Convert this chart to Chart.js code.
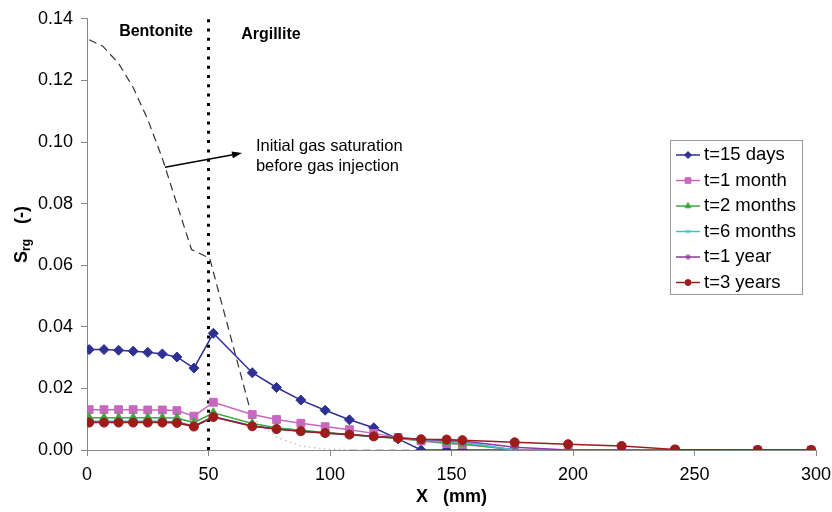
<!DOCTYPE html>
<html>
<head>
<meta charset="utf-8">
<script src="https://cdn.jsdelivr.net/npm/chart.js@4/dist/chart.umd.min.js"></script>
<style>
  body { margin: 0; background: #fff; }
  #wrap { width: 832px; height: 512px; }
</style>
</head>
<body>
<div id="wrap"><canvas id="srgChart" width="832" height="512"></canvas></div>
<script>
// distance from injection face (mm), shared by all time series
const xNodes = [0.9, 7, 13, 19, 25, 31, 37, 44, 52, 68, 78, 88, 98, 108, 118, 128, 137.5, 148, 154.5, 176, 198, 220, 242, 276, 298]

const days15 = [0.0326, 0.0326, 0.0324, 0.0321, 0.0317, 0.0312, 0.0302, 0.0266, 0.0379, 0.0251, 0.0203, 0.0162, 0.0129, 0.0098, 0.0072, 0.0036, 0, 0, 0, 0, 0, 0, 0, 0, 0]
const month1 = [0.0131, 0.0131, 0.0131, 0.0131, 0.0130, 0.0130, 0.0128, 0.0110, 0.0155, 0.0115, 0.0099, 0.0087, 0.0076, 0.0066, 0.0054, 0.0041, 0.0029, 0.0021, 0.0018, 0.0002, 0, 0, 0, 0, 0]
const months2 = [0.0105, 0.0105, 0.0105, 0.0105, 0.0105, 0.0105, 0.0104, 0.0089, 0.0121, 0.0086, 0.0072, 0.0064, 0.0057, 0.0050, 0.0044, 0.0037, 0.0030, 0.0024, 0.0021, 0, 0, 0, 0, 0, 0]
const months6 = [0.0093, 0.0093, 0.0093, 0.0093, 0.0093, 0.0093, 0.0092, 0.0078, 0.0109, 0.0079, 0.0069, 0.0062, 0.0055, 0.0049, 0.0044, 0.0038, 0.0032, 0.0028, 0.0026, 0, 0, 0, 0, 0, 0]
const year1 = [0.0091, 0.0091, 0.0091, 0.0091, 0.0091, 0.0091, 0.0090, 0.0077, 0.0108, 0.0078, 0.0068, 0.0061, 0.0055, 0.0050, 0.0045, 0.0040, 0.0035, 0.0031, 0.0029, 0.0009, 0, 0, 0, 0, 0]
const years3 = [0.0089, 0.0089, 0.0089, 0.0089, 0.0089, 0.0089, 0.0088, 0.0076, 0.0107, 0.0077, 0.0068, 0.0061, 0.0055, 0.0050, 0.0044, 0.0039, 0.0035, 0.0034, 0.0032, 0.0025, 0.0019, 0.0013, 0.0002, 0, 0]

// initial gas saturation before injection (dashed curve)
const initX = [0.9, 6.5, 13, 19, 25, 31, 37, 43, 50.5, 68, 78, 88, 98, 108, 118, 128, 137.5]
const initY = [0.1332, 0.1311, 0.1255, 0.1177, 0.1073, 0.0947, 0.0798, 0.0651, 0.0622, 0.0105, 0.0042, 0.0013, 0.0003, 0, 0, 0, 0]

// bentonite / argillite interface
const interfaceX = [50, 50]
const interfaceY = [0, 0.14]

const seriesLabels = ["t=15 days", "t=1 month", "t=2 months", "t=6 months", "t=1 year", "t=3 years"]
const seriesValues = [days15, month1, months2, months6, year1, years3]
const xTicks = [0, 50, 100, 150, 200, 250, 300]
const yTicks = [0, 0.02, 0.04, 0.06, 0.08, 0.10, 0.12, 0.14]

const seriesStyle = [
  { color: "#2e3192", point: "rectRot", radius: 5 },
  { color: "#c966c0", point: "rect", radius: 5.5 },
  { color: "#3daa3d", point: "triangle", radius: 5 },
  { color: "#40c0d0", point: "crossRot", radius: 4.5 },
  { color: "#8e3a9e", point: "star", radius: 4.5 },
  { color: "#9c1c1c", point: "circle", radius: 4.5 }
]

function toPoints(xs, ys) {
  return xs.map((x, i) => ({ x: x, y: ys[i] }))
}

const datasets = seriesValues.map((vals, i) => ({
  label: seriesLabels[i],
  data: toPoints(xNodes, vals),
  borderColor: seriesStyle[i].color,
  backgroundColor: seriesStyle[i].color,
  borderWidth: 1.5,
  pointStyle: seriesStyle[i].point,
  pointRadius: seriesStyle[i].radius,
  pointBorderWidth: 1,
  order: 6 - i,
  tension: 0
}))

datasets.push({
  label: "initial",
  data: toPoints(initX, initY),
  borderColor: "#333",
  borderWidth: 1.2,
  borderDash: [8, 5],
  pointRadius: 0,
  order: 7,
  segment: {
    borderColor: ctx => ctx.p0.parsed.x >= 100 ? "#999" : (ctx.p0.parsed.x >= 60 ? "#c8c8c8" : undefined),
    borderDash: ctx => ctx.p0.parsed.x >= 60 && ctx.p0.parsed.x < 100 ? [2, 3] : undefined
  }
})

datasets.push({
  label: "interface",
  data: toPoints(interfaceX, interfaceY),
  borderColor: "#000",
  borderWidth: 3,
  borderDash: [3, 6.3],
  pointRadius: 0,
  order: 8
})

const overlay = {
  id: "overlay",
  afterDraw(chart) {
    const ctx = chart.ctx
    const xs = chart.scales.x
    const ys = chart.scales.y
    ctx.save()

    // arrow to the initial curve
    const x0 = xs.getPixelForValue(32.1), y0 = ys.getPixelForValue(0.0918)
    const x1 = xs.getPixelForValue(63.8), y1 = ys.getPixelForValue(0.0964)
    const ang = Math.atan2(y1 - y0, x1 - x0)
    ctx.strokeStyle = "#000"
    ctx.fillStyle = "#000"
    ctx.lineWidth = 1.5
    ctx.beginPath()
    ctx.moveTo(x0, y0)
    ctx.lineTo(x1 - 8 * Math.cos(ang), y1 - 8 * Math.sin(ang))
    ctx.stroke()
    ctx.beginPath()
    ctx.moveTo(x1, y1)
    ctx.lineTo(x1 - 10 * Math.cos(ang) + 3.5 * Math.sin(ang), y1 - 10 * Math.sin(ang) - 3.5 * Math.cos(ang))
    ctx.lineTo(x1 - 10 * Math.cos(ang) - 3.5 * Math.sin(ang), y1 - 10 * Math.sin(ang) + 3.5 * Math.cos(ang))
    ctx.closePath()
    ctx.fill()

    ctx.textBaseline = "middle"
    ctx.textAlign = "left"
    ctx.font = '16.5px "Liberation Sans", Arial, sans-serif'
    ctx.fillText("Initial gas saturation", xs.getPixelForValue(69.5), ys.getPixelForValue(0.0984))
    ctx.fillText("before gas injection", xs.getPixelForValue(69.5), ys.getPixelForValue(0.0919))

    ctx.font = 'bold 16px "Liberation Sans", Arial, sans-serif'
    ctx.textAlign = "center"
    ctx.fillText("Bentonite", xs.getPixelForValue(28.4), ys.getPixelForValue(0.1358))
    ctx.fillText("Argillite", xs.getPixelForValue(75.7), ys.getPixelForValue(0.1349))

    // y title with subscript
    ctx.save()
    ctx.translate(22, (chart.chartArea.top + chart.chartArea.bottom) / 2)
    ctx.rotate(-Math.PI / 2)
    const big = 'bold 18px "Liberation Sans", Arial, sans-serif'
    const small = 'bold 12px "Liberation Sans", Arial, sans-serif'
    ctx.font = big
    const wS = ctx.measureText("S").width
    const wTail = ctx.measureText("   (-)").width
    ctx.font = small
    const wSub = ctx.measureText("rg").width
    let px = -(wS + wSub + wTail) / 2
    ctx.textAlign = "left"
    ctx.font = big
    ctx.fillText("S", px, 0)
    px += wS
    ctx.font = small
    ctx.fillText("rg", px, 5)
    px += wSub
    ctx.font = big
    ctx.fillText("   (-)", px, 0)
    ctx.restore()

    // legend box
    ctx.lineWidth = 1
    ctx.strokeStyle = "#9a9a9a"
    ctx.strokeRect(670.5, 140.5, 132, 154)
    ctx.font = '18.5px "Liberation Sans", Arial, sans-serif'
    ctx.textAlign = "left"
    seriesLabels.forEach((lab, i) => {
      const ly = 155 + i * 25.5
      const st = seriesStyle[i]
      ctx.strokeStyle = st.color
      ctx.fillStyle = st.color
      ctx.lineWidth = 1.5
      ctx.beginPath()
      ctx.moveTo(676, ly)
      ctx.lineTo(700, ly)
      ctx.stroke()
      ctx.lineWidth = 1
      Chart.helpers.drawPoint(ctx, { pointStyle: st.point, radius: st.radius - 1.5, rotation: 0, borderWidth: 1 }, 688, ly)
      ctx.fillStyle = "#000"
      ctx.fillText(lab, 704, ly)
    })

    ctx.restore()
  }
}

Chart.defaults.font.family = '"Liberation Sans", Arial, sans-serif'
Chart.defaults.color = "#000"

new Chart(document.getElementById("srgChart").getContext("2d"), {
  type: "line",
  data: { datasets: datasets },
  options: {
    responsive: false,
    animation: false,
    layout: { padding: { left: 0, right: 16, top: 13, bottom: 0 } },
    plugins: {
      legend: { display: false },
      tooltip: { enabled: false }
    },
    scales: {
      x: {
        type: "linear",
        min: 0,
        max: 300,
        afterBuildTicks: s => { s.ticks = xTicks.map(v => ({ value: v })) },
        afterFit: s => { s.height = 62; s.paddingLeft = 0; s.paddingRight = 0 },
        ticks: { font: { size: 18 }, padding: 8, color: "#000" },
        grid: { drawOnChartArea: false, tickLength: 6, color: "#888" },
        border: { color: "#888" },
        title: { display: true, text: "X   (mm)", font: { size: 18, weight: "bold" }, color: "#000" }
      },
      y: {
        type: "linear",
        min: 0,
        max: 0.14,
        afterBuildTicks: s => { s.ticks = yTicks.map(v => ({ value: v })) },
        afterFit: s => { s.width = 87 },
        ticks: { font: { size: 18 }, padding: 8, color: "#000", callback: v => v.toFixed(2) },
        grid: { drawOnChartArea: false, tickLength: 6, color: "#888" },
        border: { color: "#888" }
      }
    }
  },
  plugins: [overlay]
})
</script>
</body>
</html>
